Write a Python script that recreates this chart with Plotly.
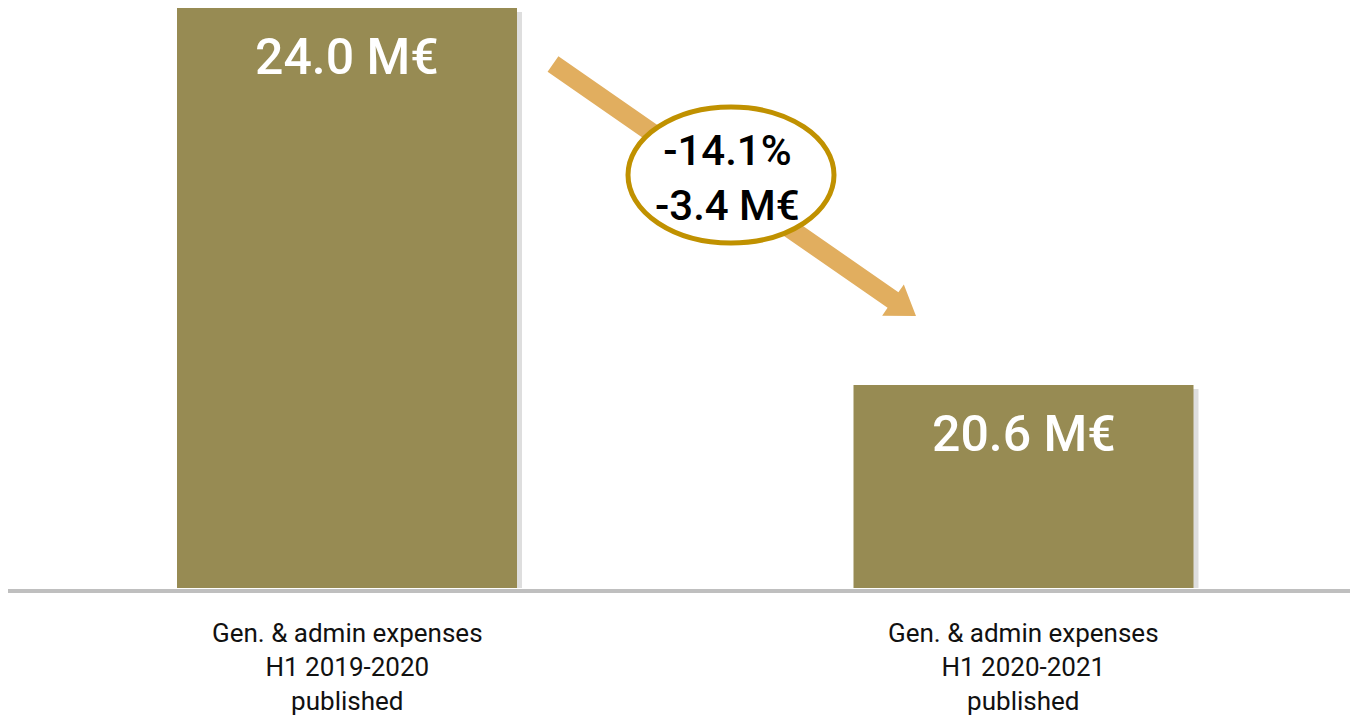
import plotly.graph_objects as go
import math

# ---- data ----
categories = ["H1 2019-2020", "H1 2020-2021"]
values = [24.0, 20.6]
value_labels = ["24.0 M€", "20.6 M€"]
label_prefix = "Gen. & admin expenses"
label_suffix = "published"
change_pct = "-14.1%"
change_abs = "-3.4 M€"

W, H = 1350, 715
PLOT_BOTTOM = 588  # pixel row of the bar baseline
BAR_COLOR = "#978B53"

# pixel -> scale helpers (layout geometry only)
px_per_cat = 676.5
center0 = 347.0
x_range = [-center0 / px_per_cat, (W - center0) / px_per_cat]
val_per_px = (values[0] - values[1]) / (385 - 8)
y_top = values[0] + 8 * val_per_px
y_bottom = values[0] - (PLOT_BOTTOM - 8) * val_per_px
bar_w = 340 / px_per_cat


def px(x):
    return x / W


def py(y):
    return (PLOT_BOTTOM - y) / PLOT_BOTTOM


fig = go.Figure()

# soft shadow
fig.add_trace(go.Bar(
    x=categories, y=[v - 4 * val_per_px for v in values],
    width=bar_w, offset=-bar_w / 2 + 5 / px_per_cat,
    marker=dict(color="rgba(0,0,0,0.13)", line=dict(width=0)),
    hoverinfo="skip", showlegend=False,
))
fig.add_trace(go.Bar(
    x=categories, y=values, width=bar_w, offset=-bar_w / 2,
    marker=dict(color=BAR_COLOR, line=dict(width=0)),
    showlegend=False,
))

annotations = []
for c, v, t in zip(categories, values, value_labels):
    annotations.append(dict(
        x=c, y=v, xref="x", yref="y", text=t, showarrow=False,
        yanchor="middle", yshift=-49,
        font=dict(family="Roboto", size=50, color="white", weight=500),
    ))
    annotations.append(dict(
        x=c, y=py(667), xref="x", yref="paper",
        text=f"{label_prefix}<br>{c}<br>{label_suffix}", showarrow=False,
        yanchor="middle", align="center",
        font=dict(family="Roboto", size=26, color="#111111"),
    ))

annotations.append(dict(
    x=px(727), y=py(178), xref="paper", yref="paper",
    text=f"{change_pct}<br>{change_abs}", showarrow=False,
    yanchor="middle", align="center",
    font=dict(family="Roboto", size=42, color="black", weight=500),
))

# arrow polygon
S = (553.0, 64.0)
T = (916.0, 316.0)
dx, dy = T[0] - S[0], T[1] - S[1]
L = math.hypot(dx, dy)
ux, uy = dx / L, dy / L
nx, ny = -uy, ux
hw, hl, hh = 9.5, 28.0, 19.0
B = (T[0] - hl * ux, T[1] - hl * uy)
pts = [
    (S[0] + hw * nx, S[1] + hw * ny),
    (B[0] + hw * nx, B[1] + hw * ny),
    (B[0] + hh * nx, B[1] + hh * ny),
    T,
    (B[0] - hh * nx, B[1] - hh * ny),
    (B[0] - hw * nx, B[1] - hw * ny),
    (S[0] - hw * nx, S[1] - hw * ny),
]
path = "M " + " L ".join(f"{px(a):.5f},{py(b):.5f}" for a, b in pts) + " Z"

shapes = [
    dict(type="line", xref="paper", yref="paper",
         x0=px(8), x1=px(1350), y0=py(591), y1=py(591),
         line=dict(color="#BFBFBF", width=4)),
    dict(type="path", xref="paper", yref="paper", path=path,
         fillcolor="#E1AE5F", line=dict(width=0)),
    dict(type="circle", xref="paper", yref="paper",
         x0=px(628), x1=px(834), y0=py(107), y1=py(243),
         fillcolor="white", line=dict(color="#C09100", width=5)),
]

fig.update_layout(
    width=W, height=H,
    margin=dict(l=0, r=0, t=0, b=H - PLOT_BOTTOM),
    paper_bgcolor="white", plot_bgcolor="white",
    barmode="overlay",
    xaxis=dict(type="category", range=x_range, showticklabels=False,
               showgrid=False, zeroline=False, showline=False, ticks=""),
    yaxis=dict(range=[y_bottom, y_top], visible=False, showgrid=False,
               zeroline=False),
    annotations=annotations,
    shapes=shapes,
    showlegend=False,
)

fig.write_html("out.html")
